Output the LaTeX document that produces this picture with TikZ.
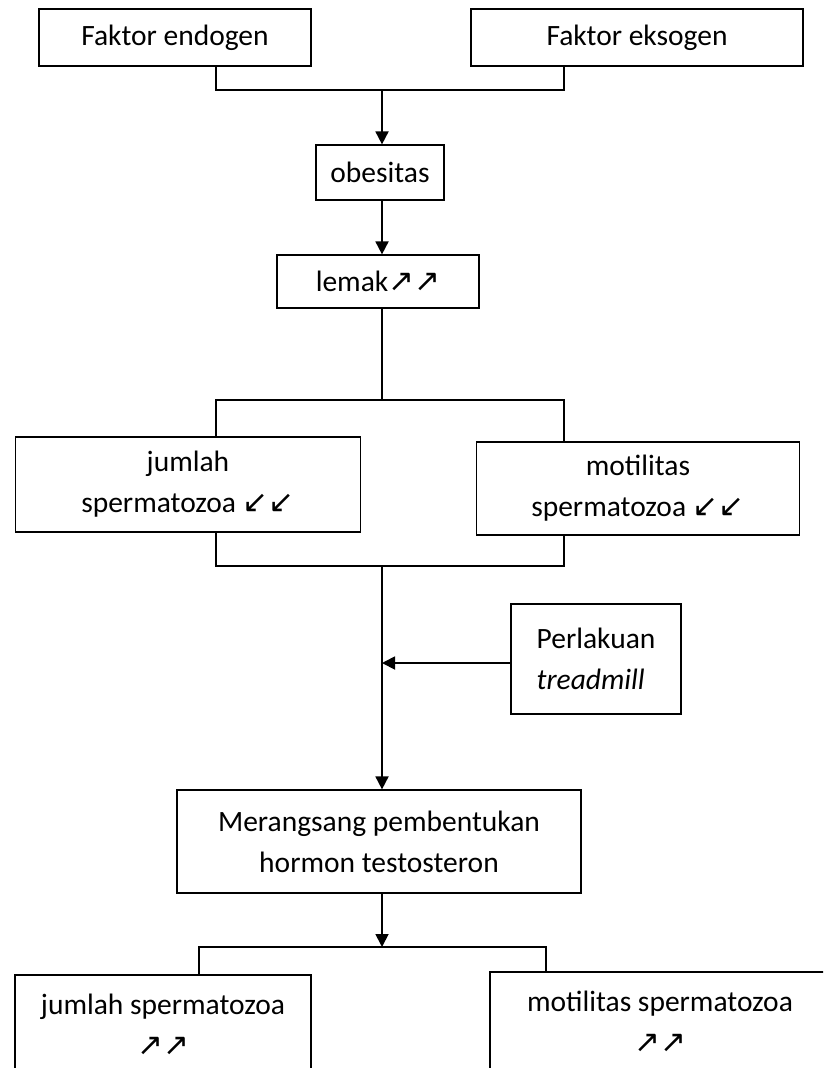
\documentclass[tikz,border=0pt]{standalone}
\usepackage{fontspec}
\setmainfont{Carlito}
\newfontfamily\symfont{DejaVu Sans}
\usetikzlibrary{arrows.meta}
\newcommand{\upar}{{\symfont\fontsize{31}{26}\selectfont ↗}}
\newcommand{\dnar}{{\symfont\fontsize{31}{26}\selectfont ↙}}
\begin{document}
\begin{tikzpicture}[x=1pt,y=-1pt,
  bx/.style={draw, line width=1.2pt, align=center, inner sep=0pt, font=\fontsize{29.5}{41}\selectfont},
  conn/.style={line width=1.2pt},
  arr/.style={line width=1.8pt, -{Triangle[length=13pt,width=13pt]}}]
\clip (0,0) rectangle (823,1068);
\fill[white] (0,0) rectangle (823,1068);
% named columns and rows
\coordinate (L) at (216,0);
\coordinate (R) at (564,0);
\coordinate (C) at (382,0);
\coordinate (L2) at (199,0);
\coordinate (R2) at (546,0);
\coordinate (r1) at (0,90);
\coordinate (r2) at (0,400);
\coordinate (r3) at (0,566);
\coordinate (r4) at (0,947);
% boxes
\node[bx, minimum width=272, minimum height=57] (endo) at (175,37.5) {Faktor endogen};
\node[bx, minimum width=332, minimum height=57] (exo) at (637,37.5) {Faktor eksogen};
\node[bx, minimum width=128, minimum height=55] (obes) at (380,172.5) {obesitas};
\node[bx, minimum width=202, minimum height=53] (lemak) at (378,281.5) {lemak\upar\upar};
\node[bx, minimum width=345, minimum height=95] (jum1) at (188,484.5) {jumlah\\spermatozoa \dnar\dnar};
\node[bx, minimum width=323, minimum height=93] (mot1) at (638,488.5) {motilitas\\spermatozoa \dnar\dnar};
\node[bx, align=left, minimum width=170, minimum height=110] (perl) at (596,659) {Perlakuan\\\textit{treadmill}};
\node[bx, minimum width=404, minimum height=103] (mer) at (379,841.5) {Merangsang pembentukan\\hormon testosteron};
\node[bx, minimum width=296, minimum height=100] (jum2) at (163,1025) {jumlah spermatozoa\\\upar\upar};
\node[bx, minimum width=340, minimum height=100] (mot2) at (660,1022) {motilitas spermatozoa\\\upar\upar};
% connectors
\draw[conn] (endo.south -| L) -- (r1 -| L) -- (r1 -| R) -- (exo.south -| R);
\draw[arr] (r1 -| C) -- (obes.north -| C);
\draw[arr] (obes.south -| C) -- (lemak.north -| C);
\draw[conn] (lemak.south -| C) -- (r2 -| C);
\draw[conn] (jum1.north -| L) -- (r2 -| L) -- (r2 -| R) -- (mot1.north -| R);
\draw[conn] (jum1.south -| L) -- (r3 -| L) -- (r3 -| R) -- (mot1.south -| R);
\draw[arr] (r3 -| C) -- (mer.north -| C);
\draw[arr] ([yshift=-4pt]perl.west) -- ([yshift=-4pt]perl.west -| C);
\draw[arr] (mer.south -| C) -- (r4 -| C);
\draw[conn] (jum2.north -| L2) -- (r4 -| L2) -- (r4 -| R2) -- (mot2.north -| R2);
\end{tikzpicture}
\end{document}
